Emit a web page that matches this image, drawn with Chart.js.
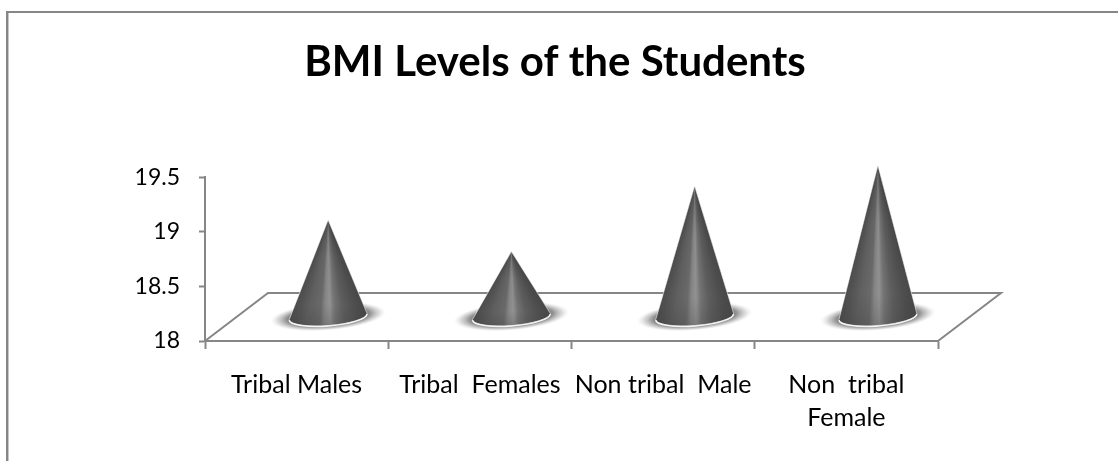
<!DOCTYPE html>
<html>
<head>
<meta charset="utf-8">
<style>html,body{margin:0;padding:0;background:#fff}canvas{display:block}</style>
<script src="https://cdn.jsdelivr.net/npm/chart.js@4/dist/chart.umd.min.js"></script>
</head>
<body>
<canvas id="c" width="1118" height="461"></canvas>
<script>
const titleText = "BMI Levels of the Students";
const categories = ["Tribal Males", "Tribal  Females", "Non tribal  Male", ["Non  tribal", "Female"]];
const bmiValues = [18.89, 18.6, 19.2, 19.39];
const axisMin = 18, axisMax = 19.5, axisStep = 0.5;

const GRAY = "#868686", FONT = "Lato, Carlito, sans-serif";
const DEPTH_X = 63, DEPTH_Y = 48;

const scene = {
  id: "scene",
  afterLayout(chart) {
    chart.titleBlock.right = 1110;
  },
  beforeDraw(chart) {
    const c = chart.ctx;
    c.save();
    c.fillStyle = "#fff"; c.fillRect(0, 0, 1118, 461);
    c.fillStyle = GRAY;
    c.fillRect(6, 11, 1112, 2);
    c.fillRect(6, 11, 2, 450);
    c.fillStyle = "#c8c8c8"; c.fillRect(8, 13, 1, 448);
    c.restore();
  },
  beforeDatasetsDraw(chart) {
    const c = chart.ctx, a = chart.chartArea;
    c.save();
    c.strokeStyle = GRAY; c.lineWidth = 2; c.lineJoin = "miter";
    c.beginPath();
    c.moveTo(a.left, a.bottom);
    c.lineTo(a.left + DEPTH_X, a.bottom - DEPTH_Y);
    c.lineTo(a.right + DEPTH_X, a.bottom - DEPTH_Y);
    c.lineTo(a.right, a.bottom);
    c.stroke();
    c.restore();
  },
  afterDatasetsDraw(chart) {
    const c = chart.ctx;
    chart.getDatasetMeta(0).data.forEach(el => drawCone(c, el));
  }
};

function drawCone(c, el) {
  const cx = el.x + DEPTH_X / 2, cy = el.base - DEPTH_Y / 2;
  const ax = cx, ay = el.y - DEPTH_Y / 2;
  const rx = el.width / 2, ry = 9, rot = -4.6 * Math.PI / 180;

  // soft shadow on the floor
  c.save();
  c.translate(cx, cy);
  c.rotate(rot);
  c.scale(58, 14);
  const sh = c.createRadialGradient(0, 0, 0, 0, 0, 1);
  sh.addColorStop(0, "rgba(95,95,95,1)");
  sh.addColorStop(0.55, "rgba(105,105,105,1)");
  sh.addColorStop(0.72, "rgba(125,125,125,.85)");
  sh.addColorStop(0.87, "rgba(170,170,170,.45)");
  sh.addColorStop(1, "rgba(220,220,220,0)");
  c.fillStyle = sh;
  c.beginPath(); c.arc(0, 0, 1, 0, Math.PI * 2); c.fill();
  c.restore();

  const path = new Path2D();
  path.moveTo(ax, ay);
  path.ellipse(cx, cy, rx, ry, rot, 0, Math.PI, false);
  path.closePath();

  // fan shading that converges at the apex
  const angL = Math.atan2(cy + 3 - ay, -rx);
  const angR = Math.atan2(cy - 3 - ay, rx);
  const off = t => (angR + (angL - angR) * t) / (2 * Math.PI);
  const g = c.createConicGradient(0, ax, ay);
  const stops = [[0, "#484848"], [0.12, "#4e4e4e"], [0.3, "#5e5e5e"], [0.42, "#747474"],
                 [0.49, "#929292"], [0.56, "#868686"], [0.62, "#6a6a6a"], [0.78, "#606060"],
                 [0.9, "#545454"], [1, "#4c4c4c"]];
  g.addColorStop(0, stops[0][1]);
  stops.forEach(s => g.addColorStop(Math.max(0, off(s[0])), s[1]));
  g.addColorStop(1, stops[stops.length - 1][1]);
  c.save();
  c.fillStyle = g;
  c.fill(path);
  const v = c.createLinearGradient(0, ay, 0, cy + ry);
  v.addColorStop(0, "rgba(50,50,50,.35)");
  v.addColorStop(0.35, "rgba(50,50,50,.06)");
  v.addColorStop(0.8, "rgba(50,50,50,0)");
  v.addColorStop(1, "rgba(40,40,40,.2)");
  c.fillStyle = v;
  c.fill(path);
  c.strokeStyle = "rgba(255,255,255,.55)";
  c.lineWidth = 1;
  c.stroke(path);
  c.strokeStyle = "#f4f4f4";
  c.lineWidth = 1.5;
  c.beginPath();
  c.ellipse(cx, cy + 0.5, rx, ry, rot, 0, Math.PI, false);
  c.stroke();
  c.restore();
}

new Chart(document.getElementById("c"), {
  type: "bar",
  plugins: [scene],
  data: {
    labels: categories,
    datasets: [{
      label: "BMI",
      data: bmiValues,
      base: axisMin,
      backgroundColor: "rgba(0,0,0,0)",
      borderWidth: 0,
      barPercentage: 0.426,
      categoryPercentage: 1
    }]
  },
  options: {
    responsive: false,
    animation: false,
    devicePixelRatio: 1,
    layout: { padding: { left: 0, right: 180, top: 0, bottom: 0 } },
    plugins: {
      legend: { display: false },
      tooltip: { enabled: false },
      title: {
        display: true,
        text: titleText,
        color: "#000",
        font: { family: FONT, size: 42, weight: "bold", lineHeight: 1.2 },
        padding: { top: 37, bottom: 90 }
      }
    },
    scales: {
      y: {
        min: axisMin, max: axisMax,
        afterFit(s) { s.width = 205; },
        border: { color: GRAY, width: 2 },
        grid: { drawOnChartArea: false, drawTicks: true, tickLength: 6, tickColor: GRAY, tickWidth: 2 },
        ticks: {
          stepSize: axisStep, padding: 19, color: "#000",
          font: { family: FONT, size: 23 },
          callback: v => String(v)
        }
      },
      x: {
        afterFit(s) { s.height = 120; },
        border: { color: GRAY, width: 2 },
        grid: { drawOnChartArea: false, drawTicks: true, tickLength: 8, tickColor: GRAY, tickWidth: 2, offset: true },
        ticks: {
          padding: 20, color: "#000", maxRotation: 0, autoSkip: false,
          font: { family: FONT, size: 25, lineHeight: 1.3 }
        }
      }
    }
  }
});
</script>
</body>
</html>
